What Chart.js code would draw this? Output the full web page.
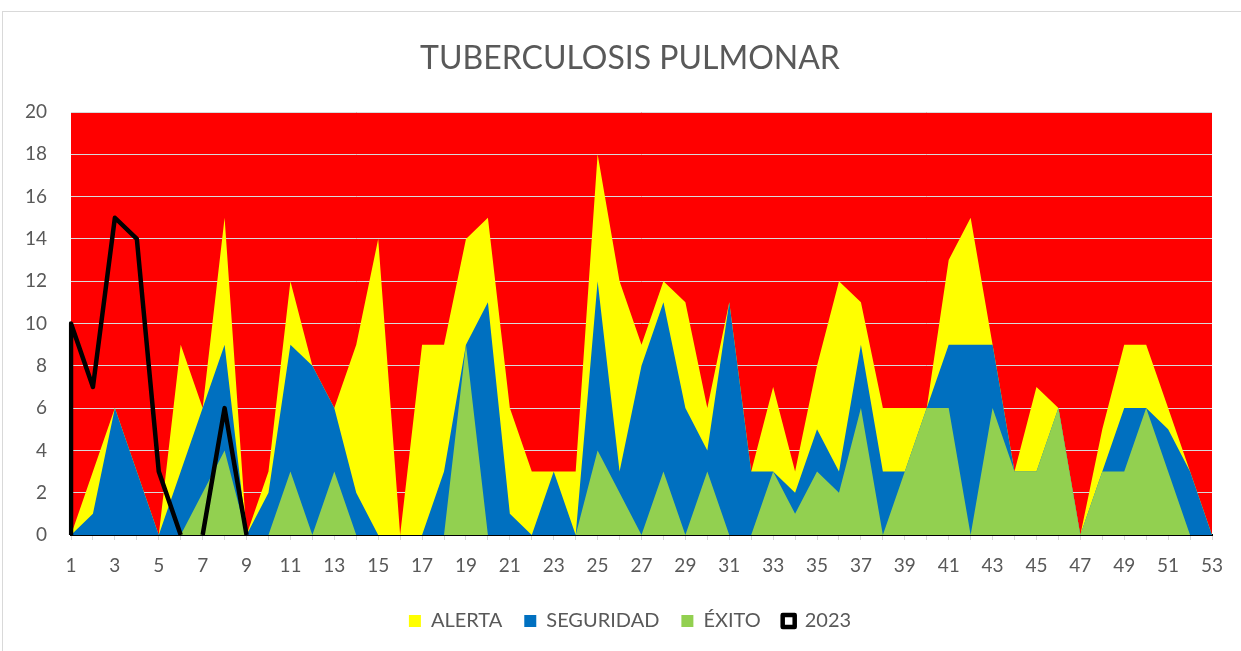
<!DOCTYPE html>
<html>
<head>
<meta charset="utf-8">
<title>Tuberculosis pulmonar</title>
<script src="https://cdn.jsdelivr.net/npm/chart.js@4.4.1/dist/chart.umd.min.js"></script>
<style>
  html, body { margin: 0; padding: 0; background: #fff; overflow: hidden; }
  #frame { position: absolute; left: 2px; top: 11px; width: 1300px; height: 700px; border: 1px solid #d9d9d9; }
  #chart { position: absolute; left: 0; top: 0; }
</style>
</head>
<body>
<div id="frame"></div>
<canvas id="chart" width="1241" height="651"></canvas>
<script>
// semanas epidemiológicas 1..53
const weeks = Array.from({ length: 53 }, (_, i) => String(i + 1));

const alerta = [0, 3, 6, 3, 0, 9, 6, 15, 0, 3, 12, 8, 6, 9, 14, 0, 9, 9, 14, 15, 6, 3, 3, 3, 18, 12, 9,
  12, 11, 6, 11, 3, 7, 3, 8, 12, 11, 6, 6, 6, 13, 15, 9, 3, 7, 6, 0, 5, 9, 9, 6, 3, 0];
const seguridad = [0, 1, 6, 3, 0, 3, 6, 9, 0, 2, 9, 8, 6, 2, 0, 0, 0, 3, 9, 11, 1, 0, 3, 0, 12, 3, 8,
  11, 6, 4, 11, 3, 3, 2, 5, 3, 9, 3, 3, 6, 9, 9, 9, 3, 3, 6, 0, 3, 6, 6, 5, 3, 0];
const exito = [0, 0, 0, 0, 0, 0, 2, 4, 0, 0, 3, 0, 3, 0, 0, 0, 0, 0, 9, 0, 0, 0, 0, 0, 4, 2, 0,
  3, 0, 3, 0, 0, 3, 1, 3, 2, 6, 0, 3, 6, 6, 0, 6, 3, 3, 6, 0, 3, 3, 6, 3, 0, 0];
// 2023: solo hay datos hasta la semana 9
const casos2023 = [10, 7, 15, 14, 3, 0, 0, 6, 0];

const yTicks = [0, 2, 4, 6, 8, 10, 12, 14, 16, 18, 20];

const TEXT = '#595959';
Chart.defaults.font.family = 'Lato, "Open Sans", sans-serif';
Chart.defaults.color = TEXT;

// zona roja (epidemia) = fondo del área de trazado
const redZone = {
  id: 'redZone',
  beforeDraw(chart) {
    const { ctx, chartArea: a } = chart;
    ctx.save();
    ctx.fillStyle = '#FF0000';
    ctx.fillRect(a.left, a.top, a.right - a.left, a.bottom - a.top);
    ctx.restore();
  }
};

// el contorno del área 2023 arranca desde la base en la semana 1
const outline2023 = [{ x: weeks[0], y: 0 }].concat(
  casos2023.map((v, i) => ({ x: weeks[i], y: v }))
);

function area(label, data, color, order) {
  return {
    label,
    data,
    order,
    backgroundColor: color,
    borderColor: 'rgba(0,0,0,0)',
    borderWidth: 0,
    fill: 'origin',
    pointRadius: 0,
    tension: 0
  };
}

new Chart(document.getElementById('chart'), {
  type: 'line',
  data: {
    labels: weeks,
    datasets: [
      area('ALERTA', alerta, '#FFFF00', 3),
      area('SEGURIDAD', seguridad, '#0070C0', 2),
      area('ÉXITO', exito, '#92D050', 1),
      {
        label: '2023',
        data: outline2023,
        order: 0,
        borderColor: '#000000',
        backgroundColor: '#ffffff',
        borderWidth: 4.5,
        borderJoinStyle: 'round',
        fill: false,
        pointRadius: 0,
        tension: 0,
        segment: {
          // Excel no dibuja el borde sobre la línea base
          borderColor: (c) => (c.p0.parsed.y === 0 && c.p1.parsed.y === 0 ? 'rgba(0,0,0,0)' : '#000000')
        }
      }
    ]
  },
  options: {
    responsive: false,
    animation: false,
    events: [],
    layout: { padding: { top: 0, left: 19, right: 0, bottom: 10 } },
    plugins: {
      title: {
        display: true,
        text: 'TUBERCULOSIS PULMONAR',
        color: TEXT,
        font: { size: 32, weight: 'normal' },
        padding: { top: 39, bottom: 34.6 }
      },
      legend: {
        position: 'bottom',
        labels: {
          color: TEXT,
          font: { size: 20 },
          boxWidth: 12,
          boxHeight: 12,
          padding: 22,
          sort: (a, b) => a.datasetIndex - b.datasetIndex
        }
      },
      tooltip: { enabled: false }
    },
    scales: {
      x: {
        offset: false,
        afterFit: (s) => { s.height = 54; },
        grid: { drawOnChartArea: false, drawTicks: true, tickLength: 5, color: '#d9d9d9' },
        border: { display: true, color: '#000000', width: 2 },
        ticks: {
          autoSkip: false,
          maxRotation: 0,
          padding: 14,
          font: { size: 19 },
          callback: (v, i) => (i % 2 === 0 ? weeks[i] : '')
        }
      },
      y: {
        min: yTicks[0],
        max: yTicks[yTicks.length - 1],
        afterFit: (s) => { s.width = 52; },
        afterBuildTicks: (s) => { s.ticks = yTicks.map((v) => ({ value: v })); },
        grid: { color: '#d9d9d9', lineWidth: 1, drawTicks: false },
        border: { display: false },
        ticks: { padding: 24, font: { size: 19 } }
      },
      // margen derecho vacío del área de trazado
      yRight: {
        position: 'right',
        afterFit: (s) => { s.width = 29; },
        grid: { display: false },
        border: { display: false },
        ticks: { display: false }
      }
    }
  },
  plugins: [redZone]
});
</script>
</body>
</html>
